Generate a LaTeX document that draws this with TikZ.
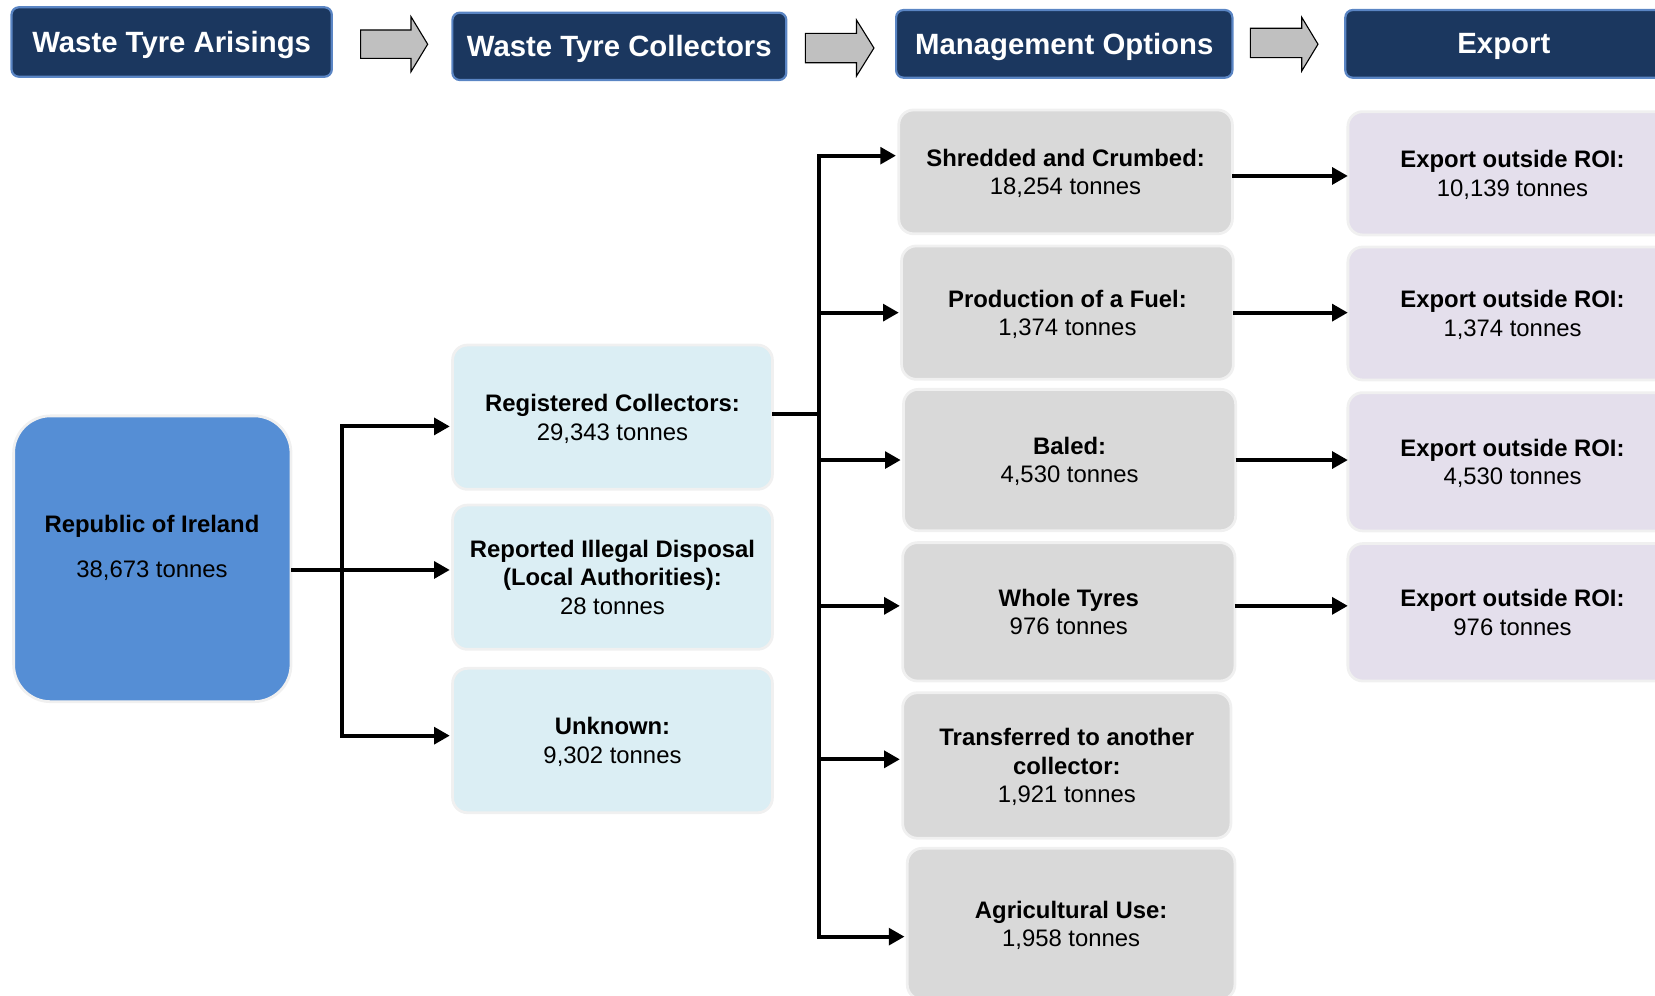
\documentclass[tikz,border=0pt]{standalone}
\usepackage{fontspec}
\setmainfont{Liberation Sans}
\usetikzlibrary{arrows.meta}
\definecolor{navy}{HTML}{1B375F}
\definecolor{navyedge}{HTML}{5A85C4}
\definecolor{roiblue}{HTML}{558ED5}
\definecolor{aqua}{HTML}{DBEEF4}
\definecolor{greybox}{HTML}{D9D9D9}
\definecolor{lav}{HTML}{E4DFEC}
\definecolor{arrowgrey}{HTML}{C0C0C0}
\definecolor{rimgrey}{HTML}{F0F0F0}
% name, x1, y1, x2, y2, style, text
\newcommand\placebox[7]{%
  \node[#6, minimum width={(#4-#2)*0.02005cm}, minimum height={(#5-#3)*0.02005cm}]
    (#1) at ({(#2+#4)/2},{(#3+#5)/2}) {#7};}
\begin{document}
\begin{tikzpicture}[x=0.02005cm,y=-0.02005cm,
  boxbase/.style={rectangle, inner sep=0pt, outer sep=0pt, align=center, text depth=0pt},
  header/.style={boxbase, rounded corners=4pt, fill=navy, draw=navyedge, line width=1.2pt,
    text=white, font=\bfseries\fontsize{15.85}{19}\selectfont},
  card/.style={boxbase, rounded corners=8pt, draw=rimgrey, line width=1.5pt,
    font=\fontsize{12.9}{15.4}\selectfont},
  aquabox/.style={card, fill=aqua},
  greycard/.style={card, fill=greybox},
  lavbox/.style={card, fill=lav},
  roibox/.style={card, fill=roiblue, rounded corners=20pt},
  bodytext/.style={align=center, inner sep=0pt, font=\fontsize{12.9}{15.4}\selectfont},
  link/.style={line width=2.1pt},
  conn/.style={link, -{Triangle[length=8.5pt,width=9pt]}, shorten >=1.5pt},
  conntwo/.style={link, {Triangle[length=8.5pt,width=9pt]}-{Triangle[length=8.5pt,width=9pt]},
    shorten >=1.5pt, shorten <=1.5pt},
  exportconn/.style={link, -{Triangle[length=8.5pt,width=9pt]}},
  blockarrow/.style={fill=arrowgrey, draw=black, line width=0.6pt, line join=miter}]
\useasboundingbox (0,0) rectangle (1568,943);

% headers
\placebox{h1}{10.9}{6.9}{314.4}{72.7}{header}{Waste Tyre Arisings}
\placebox{h2}{428.6}{12}{745}{75.8}{header}{Waste Tyre Collectors}
\placebox{h3}{849}{9.5}{1167.6}{73.6}{header}{Management Options}
\placebox{h4}{1274.6}{9.5}{1575}{73.6}{header}{Export}

% block arrows between headers
\draw[blockarrow] (341.6,28.4) -- (389.4,28.4) -- (389.4,15.8) -- (405.2,41.9)
  -- (389.4,67.9) -- (389.4,55.3) -- (341.6,55.3) -- cycle;
\draw[blockarrow] (763,31.6) -- (811.5,31.6) -- (811.5,19) -- (828,45.5)
  -- (811.5,72) -- (811.5,59.4) -- (763,59.4) -- cycle;
\draw[blockarrow] (1184.6,26.8) -- (1233.3,26.8) -- (1233.3,16.4) -- (1248.7,41.9)
  -- (1233.3,67.3) -- (1233.3,54.6) -- (1184.6,54.6) -- cycle;

% Republic of Ireland
\placebox{roi}{12.9}{394}{275.7}{664.8}{roibox}{}
\node[bodytext] (roitext) at (144,519) {\textbf{Republic of Ireland}\\[8.6pt]38,673 tonnes};

% collectors
\placebox{reg}{428.8}{326.9}{731.8}{463.6}{aquabox}{\textbf{Registered Collectors:}\\29,343 tonnes}
\placebox{ill}{428.8}{478.5}{731.8}{615.2}{aquabox}{\textbf{Reported Illegal Disposal}\\\textbf{(Local Authorities):}\\28 tonnes}
\placebox{unk}{428.8}{633.2}{731.8}{770}{aquabox}{\textbf{Unknown:}\\9,302 tonnes}

% management options
\placebox{shred}{851.5}{104.2}{1167.6}{221.5}{greycard}{\textbf{Shredded and Crumbed:}\\18,254 tonnes}
\placebox{fuel}{854.2}{233}{1168.5}{359.4}{greycard}{\textbf{Production of a Fuel:}\\1,374 tonnes}
\placebox{baled}{856}{368.9}{1170.7}{502.8}{greycard}{\textbf{Baled:}\\4,530 tonnes}
\placebox{whole}{855.2}{514.1}{1170}{645.2}{greycard}{\textbf{Whole Tyres}\\976 tonnes}
\placebox{trans}{855.2}{656.3}{1166.2}{794.2}{greycard}{\textbf{Transferred to another}\\\textbf{collector:}\\1,921 tonnes}
\placebox{agri}{859.6}{803.7}{1170}{947}{greycard}{\textbf{Agricultural Use:}\\1,958 tonnes}

% export
\placebox{e1}{1277}{105.8}{1589}{222.6}{lavbox}{\textbf{Export outside ROI:}\\10,139 tonnes}
\placebox{e2}{1277}{234}{1589}{360}{lavbox}{\textbf{Export outside ROI:}\\1,374 tonnes}
\placebox{e3}{1277}{372}{1589}{503}{lavbox}{\textbf{Export outside ROI:}\\4,530 tonnes}
\placebox{e4}{1277}{515}{1589}{645.2}{lavbox}{\textbf{Export outside ROI:}\\976 tonnes}

% junction points
\coordinate (ja) at (324,404);
\coordinate (jm) at (324,540);
\coordinate (jb) at (324,697);
\coordinate (ka) at (776,147.5);
\coordinate (kr) at (776,392.2);
\coordinate (kw) at (776,574);
\coordinate (kt) at (776,719.4);
\coordinate (kb) at (776,887.4);
\coordinate (sy) at (1220,166.7);

% ROI -> collectors
\draw[conn] (roi.east |- jm) -- (ill.west |- jm);
\draw[conntwo] (reg.west |- ja) -| (jb) -- (unk.west |- jb);

% registered collectors -> management options
\draw[link] (reg.east |- kr) -- (kr);
\draw[conntwo] (shred.west |- ka) -| (kb) -- (agri.west |- kb);
\draw[conn] (kr |- fuel.west) -- (fuel.west);
\draw[conn] (kr |- baled.west) -- (baled.west);
\draw[conn] (kw) -- (whole.west |- kw);
\draw[conn] (kt) -- (trans.west |- kt);

% management -> export
\draw[exportconn] (shred.east |- sy) -- (e1.west |- sy);
\draw[exportconn] (fuel.east) -- (fuel.east -| e2.west);
\draw[exportconn] (baled.east) -- (baled.east -| e3.west);
\draw[exportconn] (whole.east |- kw) -- (e4.west |- kw);
\end{tikzpicture}
\end{document}
